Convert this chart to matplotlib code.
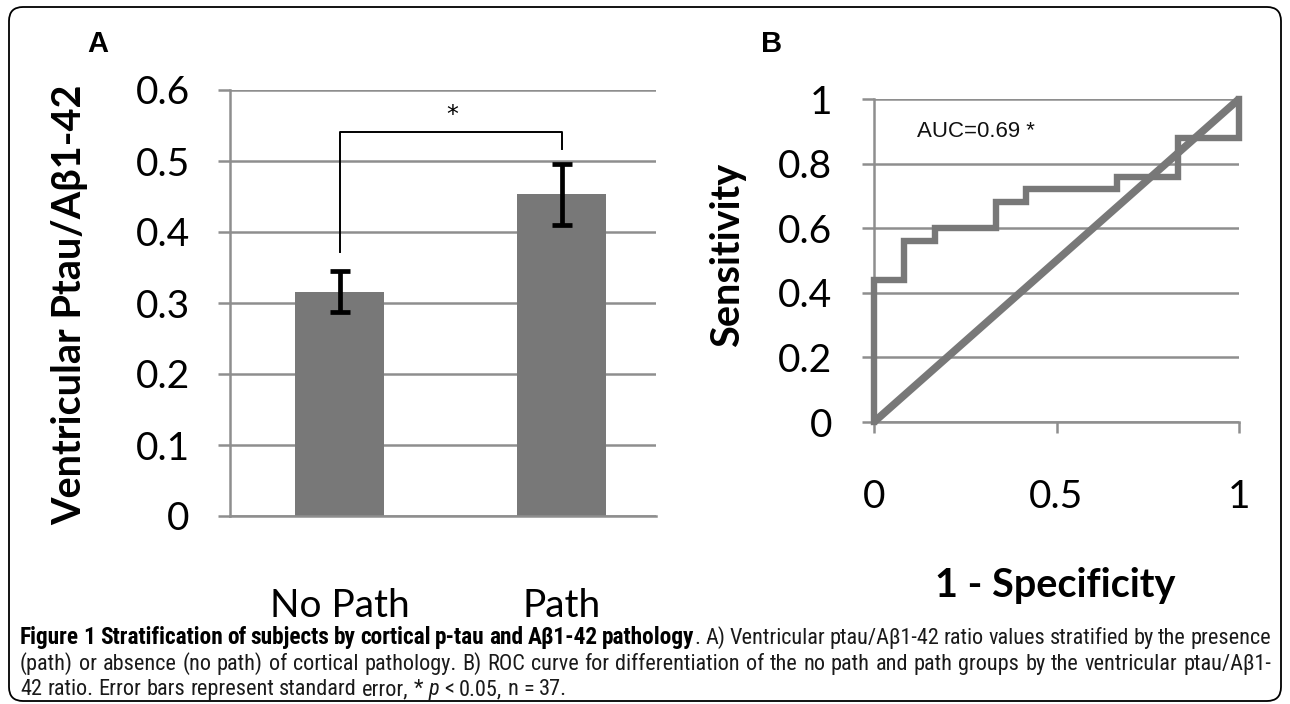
import matplotlib
matplotlib.use("Agg")
import matplotlib.pyplot as plt
from matplotlib.patches import FancyBboxPatch
from matplotlib.transforms import IdentityTransform
from matplotlib import font_manager as fm

# ---------------- data ----------------
categories = ["No Path", "Path"]
ratio_means = [0.316, 0.453]
ratio_sem = [0.029, 0.043]
a_yticks = [0, 0.1, 0.2, 0.3, 0.4, 0.5, 0.6]
a_yticklabels = ["0", "0.1", "0.2", "0.3", "0.4", "0.5", "0.6"]
bracket_x = [0, 0, 1, 1]
bracket_y = [0.372, 0.541, 0.541, 0.517]

roc_fpr = [0, 0, 0.083, 0.083, 0.167, 0.167, 0.333, 0.333, 0.417, 0.417,
           0.667, 0.667, 0.833, 0.833, 1.0, 1.0]
roc_tpr = [0, 0.44, 0.44, 0.56, 0.56, 0.60, 0.60, 0.68, 0.68, 0.72,
           0.72, 0.76, 0.76, 0.88, 0.88, 1.0]
chance_x = [0, 1]
chance_y = [0, 1]
b_yticks = [0, 0.2, 0.4, 0.6, 0.8, 1.0]
b_yticklabels = ["0", "0.2", "0.4", "0.6", "0.8", "1"]
b_xticks = [0, 0.5, 1.0]
b_xticklabels = ["0", "0.5", "1"]
auc_text = "AUC=0.69 *"

W, H = 1290, 704
fig = plt.figure(figsize=(W / 100, H / 100), dpi=100)
fig.patch.set_facecolor("white")

MAIN = ["Lato", "DejaVu Sans"]
GRID = "#8e8e8e"
BAR = "#787878"
TICK_FS = 28
LAB_FS = 28.5

# ---------------- panel A ----------------
ax1 = fig.add_axes([230 / W, 1 - 516 / H, 426 / W, 426 / H])
xpos = list(range(len(categories)))
ax1.bar(xpos, ratio_means, width=0.40, color=BAR, zorder=2)
ax1.errorbar(xpos, ratio_means, yerr=ratio_sem, fmt="none", ecolor="black",
             elinewidth=3.4, capsize=7.5, capthick=3.4, zorder=3)
ax1.plot(bracket_x, bracket_y, color="black", lw=1.4, zorder=3, clip_on=False)
ax1.text(0.505, 0.565, "*", ha="center", va="center", fontsize=17,
         family=["DejaVu Sans"], color="black")
ax1.set_xlim(-0.495, 1.424)
ax1.set_ylim(0, 0.6)
ax1.set_yticks(a_yticks)
ax1.set_yticklabels(a_yticklabels, family=MAIN, fontsize=TICK_FS)
ax1.set_xticks(xpos)
ax1.set_xticklabels(categories, family=MAIN, fontsize=TICK_FS)
ax1.yaxis.grid(True, color=GRID, lw=1.8, zorder=0)
ax1.set_axisbelow(True)
for s in ["top", "right"]:
    ax1.spines[s].set_visible(False)
ax1.spines["left"].set_color(GRID)
ax1.spines["left"].set_linewidth(1.8)
ax1.spines["bottom"].set_color(GRID)
ax1.spines["bottom"].set_linewidth(1.8)
ax1.tick_params(axis="y", direction="out", length=9, width=1.8, color=GRID, pad=20)
ax1.tick_params(axis="x", length=0, pad=52)
ax1.set_ylabel("Ventricular Ptau/A\u03b21-42", family=MAIN, fontsize=LAB_FS,
               fontweight="bold")
ax1.yaxis.set_label_coords(-0.333, 0.495)

fig.text(98 / W, 1 - 44 / H, "A", family=["Liberation Sans"], fontsize=21,
         fontweight="bold", ha="center", va="center")
fig.text(772 / W, 1 - 44 / H, "B", family=["Liberation Sans"], fontsize=21,
         fontweight="bold", ha="center", va="center")

# ---------------- panel B ----------------
ax2 = fig.add_axes([874 / W, 1 - 422 / H, 365 / W, 323 / H])
ax2.plot(chance_x, chance_y, color=BAR, lw=5.5, solid_capstyle="butt",
         clip_on=False, zorder=3)
ax2.plot(roc_fpr, roc_tpr, color=BAR, lw=4.6, solid_joinstyle="miter",
         clip_on=False, zorder=4)
ax2.set_xlim(0, 1)
ax2.set_ylim(0, 1)
ax2.set_yticks(b_yticks)
ax2.set_yticklabels(b_yticklabels, family=MAIN, fontsize=TICK_FS)
ax2.set_xticks(b_xticks)
ax2.set_xticklabels(b_xticklabels, family=MAIN, fontsize=TICK_FS)
ax2.yaxis.grid(True, color=GRID, lw=1.8, zorder=0)
ax2.set_axisbelow(True)
for s in ["top", "right"]:
    ax2.spines[s].set_visible(False)
for s in ["left", "bottom"]:
    ax2.spines[s].set_color(GRID)
    ax2.spines[s].set_linewidth(1.8)
ax2.tick_params(axis="y", direction="out", length=9, width=1.8, color=GRID, pad=21)
ax2.tick_params(axis="x", direction="out", length=8, width=1.8, color=GRID, pad=33)
ax2.set_ylabel("Sensitivity", family=MAIN, fontsize=LAB_FS, fontweight="bold")
ax2.yaxis.set_label_coords(-0.35, 0.517)
ax2.set_xlabel("1 - Specificity", family=MAIN, fontsize=LAB_FS, fontweight="bold")
ax2.xaxis.set_label_coords(0.496, -0.45)
ax2.text(0.117, 0.90, auc_text, family=["Liberation Sans", "DejaVu Sans"],
         fontsize=16, ha="left", va="center", color="#111111")

# ---------------- border ----------------
border = FancyBboxPatch((9, 3), 1272, 694, boxstyle="round,pad=0,rounding_size=14",
                        transform=IdentityTransform(), fill=False,
                        edgecolor="black", lw=1.3)
fig.patches.append(border)

# ---------------- caption ----------------
names = {f.name for f in fm.fontManager.ttflist}
CAP = None
for cand in ["Liberation Sans Narrow", "Roboto Condensed", "Open Sans Condensed",
             "Noto Sans Condensed"]:
    if cand in names:
        CAP = dict(family=[cand, "DejaVu Sans"])
        break
if CAP is None:
    CAP = dict(family=["DejaVu Sans"], stretch="condensed")

seg_lines = [
    [("Figure 1 Stratification of subjects by cortical p-tau and A\u03b21-42 pathology", "b"),
     (". A) Ventricular ptau/A\u03b21-42 ratio values stratified by the presence", "n")],
    [("(path) or absence (no path) of cortical pathology. B) ROC curve for differentiation of the no path and path groups by the ventricular ptau/A\u03b21-", "n")],
    [("42 ratio. Error bars represent standard error, * ", "n"), ("p", "i"),
     (" < 0.05, n = 37.", "n")],
]

renderer = fig.canvas.get_renderer()


def props(sty, size):
    d = dict(CAP)
    d["fontsize"] = size
    d["color"] = "#1a1a1a"
    if sty == "b":
        d["fontweight"] = "bold"
        d["color"] = "black"
        d["fontsize"] = size * 1.05
    if sty == "i":
        d["style"] = "italic"
    return d


def width(txt, sty, size):
    t = fig.text(0, 0, txt, **props(sty, size))
    w = t.get_window_extent(renderer).width
    t.remove()
    return w


def words_of(segs):
    words = [[]]
    for txt, sty in segs:
        parts = txt.split(" ")
        for i, p in enumerate(parts):
            if i > 0:
                words.append([])
            if p:
                words[-1].append((p, sty))
    return [w for w in words if w]


x0, x1 = 20, 1271
base = 10.0
nat = width(seg_lines[1][0][0], "n", base)
size = base * (x1 - x0) / nat * 0.985
space = width("x x", "n", size) - width("xx", "n", size)

baselines = [644, 670, 695]
for li, segs in enumerate(seg_lines):
    words = words_of(segs)
    wlist = [sum(width(p, s, size) for p, s in w) for w in words]
    if li < 2:
        gap = (x1 - x0 - sum(wlist)) / (len(words) - 1)
    else:
        gap = space
    x = x0
    yb = (H - baselines[li]) / H
    for w, ww in zip(words, wlist):
        xx = x
        for p, s in w:
            fig.text(xx / W, yb, p, ha="left", va="baseline", **props(s, size))
            xx += width(p, s, size)
        x += ww + gap

fig.savefig("out.png", dpi=100)
